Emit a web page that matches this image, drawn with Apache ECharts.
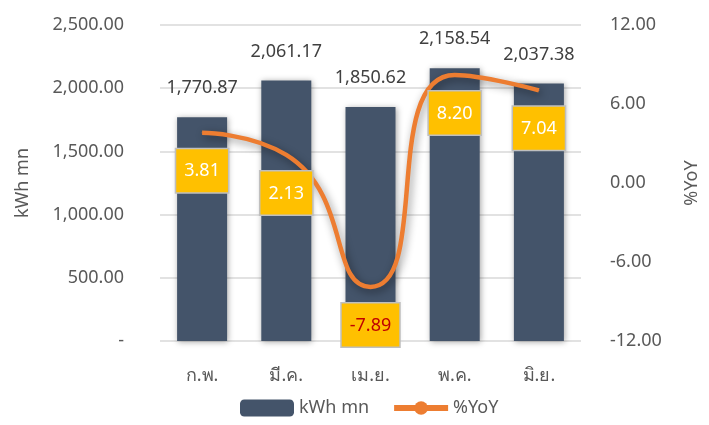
<!DOCTYPE html>
<html>
<head>
<meta charset="utf-8">
<script src="https://cdn.jsdelivr.net/npm/echarts@6/dist/echarts.min.js"></script>
<style>
  html, body { margin: 0; padding: 0; background: #fff; }
  #chart { width: 709px; height: 425px; }
</style>
</head>
<body>
<div id="chart"></div>
<script>
const months = ['ก.พ.', 'มี.ค.', 'เม.ย.', 'พ.ค.', 'มิ.ย.']
const kwh = [1770.87, 2061.17, 1850.62, 2158.54, 2037.38]
const yoy = [3.81, 2.13, -7.89, 8.20, 7.04]

const font = 'Noto Sans, Tahoma, sans-serif'
const grey = '#595959'

const fmtNum = v => v === 0 ? '-' : v.toLocaleString('en-US', { minimumFractionDigits: 2, maximumFractionDigits: 2 })

// red text for negative yoy, like the excel label
const yoyData = yoy.map(v => ({
    value: v,
    label: { color: v < 0 ? '#C00000' : '#fff' },
}))

const chart = echarts.init(document.getElementById('chart'))
chart.setOption({
    animation: false,
    textStyle: { fontFamily: font },
    grid: { left: 160, right: 126, top: 25, bottom: 84 },
    legend: {
        left: 235,
        bottom: 3,
        itemWidth: 54,
        itemHeight: 17,
        itemGap: 22,
        textStyle: { fontSize: 18, color: grey, fontFamily: font },
        data: [
            'kWh mn',
            { name: '%YoY', itemStyle: { color: '#ED7D31' }, lineStyle: { width: 6, color: '#ED7D31' } },
        ],
    },
    xAxis: {
        type: 'category',
        data: months,
        axisLine: { show: false },
        axisTick: { show: false },
        axisLabel: { color: grey, fontSize: 18, margin: 26 },
    },
    yAxis: [
        {
            type: 'value',
            min: 0,
            max: 2500,
            interval: 500,
            name: 'kWh mn',
            nameLocation: 'middle',
            nameGap: 128,
            nameTextStyle: { color: grey, fontSize: 18 },
            axisLabel: { color: grey, fontSize: 18, margin: 36, formatter: fmtNum },
            splitLine: { lineStyle: { color: '#D9D9D9', width: 1.5 } },
        },
        {
            type: 'value',
            min: -12,
            max: 12,
            interval: 6,
            name: '%YoY',
            nameLocation: 'middle',
            nameGap: 102,
            nameRotate: 90,
            nameTextStyle: { color: grey, fontSize: 18 },
            axisLabel: { color: grey, fontSize: 18, margin: 29, formatter: v => v.toFixed(2) },
            splitLine: { show: false },
        },
    ],
    series: [
        {
            name: 'kWh mn',
            type: 'bar',
            data: kwh,
            barWidth: 50,
            itemStyle: {
                color: '#44546A',
                shadowBlur: 6,
                shadowColor: 'rgba(0,0,0,0.35)',
                shadowOffsetX: 1,
                shadowOffsetY: 1,
            },
            label: {
                show: true,
                position: 'top',
                distance: 20,
                color: '#404040',
                fontSize: 18,
                formatter: p => fmtNum(p.value),
            },
        },
        {
            name: '%YoY',
            type: 'line',
            yAxisIndex: 1,
            data: yoyData,
            smooth: 0.6,
            symbol: 'circle',
            symbolSize: 1,
            itemStyle: { color: '#ED7D31' },
            lineStyle: {
                color: '#ED7D31',
                width: 4.5,
                shadowBlur: 8,
                shadowColor: 'rgba(0,0,0,0.45)',
                shadowOffsetX: 2,
                shadowOffsetY: 3,
            },
            label: {
                show: true,
                position: 'bottom',
                distance: 16,
                fontSize: 18,
                backgroundColor: '#FFC000',
                borderColor: '#BFBFBF',
                borderWidth: 1.5,
                padding: [13, 8, 12, 8],
                formatter: p => p.value.toFixed(2),
            },
            z: 3,
        },
    ],
})
</script>
</body>
</html>
